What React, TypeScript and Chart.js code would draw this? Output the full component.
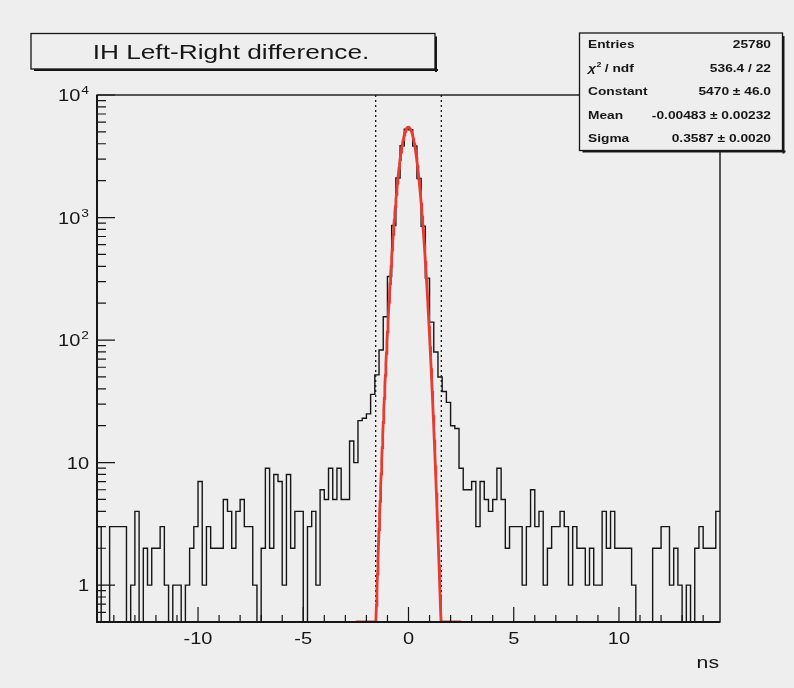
import React, { useEffect, useRef } from "react";
import { Chart, registerables } from "chart.js";

Chart.register(...registerables);

// ---- axis ranges ----
const xRange = [-14.8, 14.8];
const yRange = [0.5, 10000];

// ---- histogram binning: 0.2 ns bins starting at -14.8 ns ----
const binStart = -14.8;
const binWidth = 0.2;

// counts, -14.8 .. -2.8 ns
const leftTail = [
  3, 0, 0, 3, 3, 3, 3, 0, 1, 4,
  0, 2, 1, 2, 2, 3, 1, 0, 1, 1,
  0, 1, 2, 3, 7, 1, 3, 2, 2, 2,
  5, 4, 2, 4, 5, 3, 3, 1, 0, 2,
  9, 2, 8, 7, 1, 8, 2, 4, 4, 0,
  3, 4, 1, 6, 5, 9, 5, 9, 5, 5,
];
// counts, -2.8 .. 2.8 ns
const centralPeak = [
  15, 10, 22, 23, 25, 36, 52, 83, 155, 330,
  860, 2100, 3850, 5250, 5200, 3830, 2080, 850, 320, 140,
  80, 50, 38, 31, 20, 19, 9, 6,
];
// counts, 2.8 .. 14.8 ns
const rightTail = [
  6, 7, 3, 7, 5, 4, 5, 9, 5, 2,
  3, 3, 3, 1, 3, 6, 3, 4, 1, 2,
  3, 3, 4, 3, 1, 3, 2, 2, 1, 2,
  1, 1, 4, 2, 4, 2, 2, 2, 2, 1,
  0, 0, 0, 0, 2, 2, 3, 3, 1, 2,
  1, 0, 1, 0, 2, 3, 2, 2, 2, 4,
];

// ---- gaussian fit (parameters from the stats box) ----
const fitConstant = 5470;
const fitMean = -0.00483;
const fitSigma = 0.3587;
const fitRange = [-2.5, 2.5];
const fitSamples = 200;

// dotted cut positions (ns)
const cutPositions = [-1.56, 1.56];

// ---- axis ticks / labels ----
const xMajorTicks = [-10, -5, 0, 5, 10];
const xTickLabels = ["-10", "-5", "0", "5", "10"];
const yDecades = [1, 10, 100, 1000, 10000];
const yDecadeBase = ["1", "10", "10", "10", "10"];
const yDecadeExp = ["", "", "2", "3", "4"];
const xAxisTitle = "ns";

// ---- texts ----
const titleText = "IH Left-Right difference.";
const statLabels = ["Entries", "chi2", "Constant", "Mean", "Sigma"];
const statValues = ["25780", "536.4 / 22", "5470 \u00b1 46.0", "-0.00483 \u00b1 0.00232", "0.3587 \u00b1 0.0020"];

// ---- style ----
const BG = "#eeeeee";
const INK = "#161616";
const FIT_RED = "rgb(230,60,50)";
const FONT = '"Liberation Sans", Arial, Helvetica, sans-serif';
const STRETCH = 1.25;

function stretchedText(
  ctx: CanvasRenderingContext2D,
  text: string,
  x: number,
  y: number,
  align: "left" | "right" | "center",
  font: string
): number {
  ctx.save();
  ctx.font = font;
  ctx.textAlign = "left";
  ctx.textBaseline = "alphabetic";
  const w = ctx.measureText(text).width * STRETCH;
  let x0 = x;
  if (align === "right") x0 = x - w;
  else if (align === "center") x0 = x - w / 2;
  ctx.translate(x0, y);
  ctx.scale(STRETCH, 1);
  ctx.fillText(text, 0, 0);
  ctx.restore();
  return w;
}

function textWidth(ctx: CanvasRenderingContext2D, text: string, font: string): number {
  ctx.save();
  ctx.font = font;
  const w = ctx.measureText(text).width * STRETCH;
  ctx.restore();
  return w;
}

function drawPave(ctx: CanvasRenderingContext2D, l: number, t: number, r: number, b: number) {
  ctx.save();
  ctx.fillStyle = BG;
  ctx.fillRect(l, t, r - l, b - t);
  ctx.strokeStyle = INK;
  ctx.lineWidth = 1.3;
  ctx.strokeRect(l, t, r - l, b - t);
  // shadow on the right and bottom edges
  ctx.fillStyle = INK;
  ctx.fillRect(l + 3, b, r - l, 2);
  ctx.fillRect(r, t + 3, 2, b - t);
  ctx.restore();
}

const rootStyle = {
  id: "rootStyle",
  beforeDraw(chart: any) {
    const { ctx, width, height } = chart;
    ctx.save();
    ctx.fillStyle = BG;
    ctx.fillRect(0, 0, width, height);
    ctx.restore();
  },
  afterDatasetsDraw(chart: any) {
    const { ctx, chartArea: a, scales } = chart;
    const xs = scales.x;
    const ys = scales.y;
    ctx.save();
    ctx.strokeStyle = INK;
    ctx.fillStyle = INK;

    // frame
    ctx.lineWidth = 1.4;
    ctx.strokeRect(a.left, a.top, a.right - a.left, a.bottom - a.top);
    ctx.lineWidth = 2;
    ctx.beginPath();
    ctx.moveTo(a.left, a.top);
    ctx.lineTo(a.left, a.bottom);
    ctx.lineTo(a.right, a.bottom);
    ctx.stroke();

    // x ticks (inside the frame)
    ctx.lineWidth = 1.2;
    ctx.beginPath();
    for (let v = Math.ceil(xRange[0]); v <= Math.floor(xRange[1]); v++) {
      const px = xs.getPixelForValue(v);
      const len = xMajorTicks.includes(v) ? 15 : 7;
      ctx.moveTo(px, a.bottom);
      ctx.lineTo(px, a.bottom - len);
    }
    ctx.stroke();

    // y ticks (log axis)
    ctx.beginPath();
    for (let d = 0.1; d <= 10000; d *= 10) {
      for (let m = 1; m <= 9; m++) {
        const v = Math.round(m * d * 1000) / 1000;
        if (v < yRange[0] - 1e-9 || v > yRange[1] + 1e-9) continue;
        const py = ys.getPixelForValue(v);
        const len = m === 1 ? 18 : 9;
        ctx.moveTo(a.left, py);
        ctx.lineTo(a.left + len, py);
      }
    }
    ctx.stroke();

    // x labels
    const labelFont = `16px ${FONT}`;
    xMajorTicks.forEach((v, i) => {
      stretchedText(ctx, xTickLabels[i], xs.getPixelForValue(v), a.bottom + 22, "center", labelFont);
    });
    stretchedText(ctx, xAxisTitle, a.right - 1, a.bottom + 46, "right", `17px ${FONT}`);

    // y labels with superscript exponents
    const supFont = `11px ${FONT}`;
    const rightEdge = a.left - 8;
    yDecades.forEach((v, i) => {
      const py = ys.getPixelForValue(v);
      const base = yDecadeBase[i];
      const ex = yDecadeExp[i];
      const we = ex ? textWidth(ctx, ex, supFont) + 1 : 0;
      stretchedText(ctx, base, rightEdge - we, py + 6, "right", labelFont);
      if (ex) stretchedText(ctx, ex, rightEdge, py - 1, "right", supFont);
    });
    ctx.restore();
  },
  afterDraw(chart: any) {
    const { ctx } = chart;
    ctx.save();
    ctx.fillStyle = INK;

    // title pave
    drawPave(ctx, 31, 33.5, 435, 69);
    stretchedText(ctx, titleText, 231, 59, "center", `21px ${FONT}`);

    // statistics pave
    const sl = 579.5, st = 33, sr = 782.5, sb = 150.5;
    drawPave(ctx, sl, st, sr, sb);
    const statFont = `bold 11px ${FONT}`;
    statLabels.forEach((lab, i) => {
      const base = 48 + 23.5 * i;
      if (lab === "chi2") {
        let x = 588;
        x += stretchedText(ctx, "\u03c7", x, base, "left", `italic bold 11px ${FONT}`);
        stretchedText(ctx, "2", x + 0.5, base - 5, "left", `bold 7px ${FONT}`);
        stretchedText(ctx, " / ndf", x + 5, base, "left", statFont);
      } else {
        stretchedText(ctx, lab, 588, base, "left", statFont);
      }
      stretchedText(ctx, statValues[i], 771, base, "right", statFont);
    });
    ctx.restore();
  },
};

export default function App() {
  const ref = useRef<HTMLCanvasElement>(null);

  useEffect(() => {
    const canvas = ref.current;
    if (!canvas) return;

    const counts = [...leftTail, ...centralPeak, ...rightTail];
    const histData = counts.map((c, k) => ({
      x: binStart + k * binWidth,
      y: c > 0 ? c : yRange[0],
    }));
    histData.push({
      x: binStart + counts.length * binWidth,
      y: histData[histData.length - 1].y,
    });

    const fitData: { x: number; y: number }[] = [];
    for (let i = 0; i <= fitSamples; i++) {
      const x = fitRange[0] + ((fitRange[1] - fitRange[0]) * i) / fitSamples;
      const z = (x - fitMean) / fitSigma;
      const y = fitConstant * Math.exp(-0.5 * z * z);
      fitData.push({ x, y: Math.max(y, yRange[0]) });
    }

    const cutSets = cutPositions.map((c) => ({
      label: "cut",
      data: [
        { x: c, y: yRange[0] },
        { x: c, y: yRange[1] },
      ],
      borderColor: INK,
      borderWidth: 1.3,
      borderDash: [2, 3],
      pointRadius: 0,
      order: 2,
    }));

    const chart = new Chart(canvas, {
      type: "line",
      data: {
        datasets: [
          {
            label: "fit",
            data: fitData,
            borderColor: FIT_RED,
            borderWidth: 2.8,
            pointRadius: 0,
            tension: 0,
            order: 0,
          },
          {
            label: "hist",
            data: histData,
            stepped: true,
            borderColor: INK,
            borderWidth: 1.4,
            pointRadius: 0,
            order: 1,
          },
          ...cutSets,
        ],
      },
      options: {
        responsive: false,
        animation: false,
        devicePixelRatio: 1,
        layout: { padding: { left: 97, right: 74, top: 95, bottom: 66 } },
        plugins: {
          legend: { display: false },
          tooltip: { enabled: false },
          title: { display: false },
        },
        scales: {
          x: { type: "linear", min: xRange[0], max: xRange[1], display: false },
          y: { type: "logarithmic", min: yRange[0], max: yRange[1], display: false },
        },
      },
      plugins: [rootStyle],
    } as any);

    return () => chart.destroy();
  }, []);

  return (
    <canvas
      ref={ref}
      width={794}
      height={688}
      style={{ position: "fixed", left: 0, top: 0, width: 794, height: 688, display: "block" }}
    />
  );
}
